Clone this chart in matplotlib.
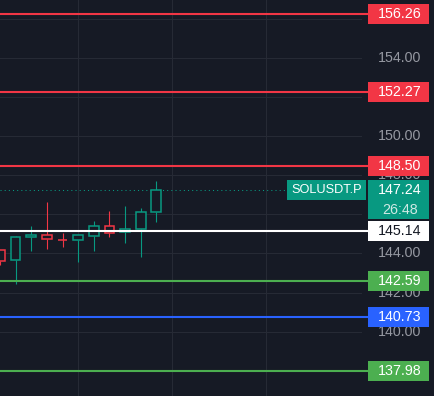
import matplotlib.pyplot as plt
from matplotlib.patches import Rectangle

# candles, oldest first (SOLUSDT.P)
opens = [144.18, 143.66, 144.83, 144.93, 144.71, 144.67, 144.88, 145.39, 145.08, 145.24, 146.11]
closes = [143.61, 144.84, 144.93, 144.72, 144.69, 144.93, 145.39, 145.03, 145.24, 146.11, 147.24]
highs = [144.20, 144.89, 145.40, 146.63, 145.05, 144.93, 145.66, 146.17, 146.43, 146.33, 147.71]
lows = [143.41, 142.45, 144.14, 144.24, 144.31, 143.58, 144.14, 144.86, 144.55, 143.83, 145.63]

# horizontal levels drawn on the chart
levels = [156.26, 152.27, 148.50, 145.14, 142.59, 140.73, 137.98]
level_colors = ['#f23645', '#f23645', '#f23645', '#ffffff', '#4caf50', '#2962ff', '#4caf50']
level_text_colors = ['#ffffff', '#ffffff', '#ffffff', '#131722', '#ffffff', '#ffffff', '#ffffff']

price_ticks = [138, 140, 142, 144, 146, 148, 150, 152, 154, 156]
symbol = 'SOLUSDT.P'
last_price = 147.24
countdown = '26:48'

BG = '#161a25'
GRID = '#262a35'
UP = '#089981'
DOWN = '#f23645'

W, H = 435, 396
PLOT_W = 362
fig = plt.figure(figsize=(W / 100, H / 100), dpi=100, facecolor=BG)
ax = fig.add_axes([0, 0, PLOT_W / W, 1])
ax.set_facecolor(BG)
ylim = (136.70, 156.98)
px = (ylim[1] - ylim[0]) / H  # price per pixel
ax.set_ylim(*ylim)
ax.set_xlim(0, PLOT_W / 15.63)

# grid
for t in price_ticks:
    ax.axhline(t, color=GRID, lw=0.8, zorder=0)
for xg in [5, 11, 17]:
    ax.axvline(xg, color=GRID, lw=0.8, zorder=0)
for s in ax.spines.values():
    s.set_visible(False)
ax.set_xticks([])
ax.set_yticks([])
ax.axvline(PLOT_W / 15.63 - 0.02, color=GRID, lw=0.8, zorder=0)

# candles (hollow)
bw = 0.62
for i, (o, c, h, l) in enumerate(zip(opens, closes, highs, lows)):
    col = UP if c >= o else DOWN
    top, bot = max(o, c), min(o, c)
    if h > top:
        ax.plot([i, i], [top, h], color=col, lw=0.8, zorder=2, solid_capstyle='butt')
    if l < bot:
        ax.plot([i, i], [l, bot], color=col, lw=0.8, zorder=2, solid_capstyle='butt')
    ax.add_patch(Rectangle((i - bw / 2, bot), bw, max(top - bot, 0.02),
                           facecolor=BG, edgecolor=col, lw=1.1, zorder=2))

# level lines
for v, c in zip(levels, level_colors):
    ax.axhline(v, color=c, lw=1.5, zorder=3)

# last price dotted line + symbol tag
ax.axhline(last_price, color=UP, lw=0.75, ls=(0, (1, 3)), zorder=1)
ax.text(PLOT_W / 15.63 - 0.2 / 15.63 * 15.63 * 0, last_price, symbol, ha='right', va='center',
        color='white', fontsize=9.2, family='Liberation Sans', zorder=6,
        bbox=dict(boxstyle='square,pad=0.32', facecolor=UP, edgecolor='none'))

# price scale
ax2 = fig.add_axes([PLOT_W / W, 0, (W - PLOT_W) / W, 1])
ax2.set_facecolor(BG)
ax2.set_xlim(0, W - PLOT_W)
ax2.set_ylim(*ylim)
ax2.axis('off')
box_x0, box_x1, text_x = 6, 67, 38
for t in price_ticks:
    ax2.text(text_x, t, f'{t:.2f}', ha='center', va='center', color='#9598a1',
             fontsize=10.3, family='Liberation Sans', zorder=2)

# last price box with countdown
lp_top = last_price + 10 * px
lp_bot = last_price - 29 * px
ax2.add_patch(Rectangle((box_x0, lp_bot), box_x1 - box_x0, lp_top - lp_bot,
                        facecolor=UP, edgecolor='none', zorder=5))
ax2.text(text_x, last_price, f'{last_price:.2f}', ha='center', va='center',
         color='white', fontsize=10.3, family='Liberation Sans', zorder=6)
ax2.text(text_x, last_price - 19.5 * px, countdown, ha='center', va='center',
         color='#cfe9e4', fontsize=10.3, family='Liberation Sans', zorder=6)

for v, c, tc in zip(levels, level_colors, level_text_colors):
    top, bot = v + 10 * px, v - 10 * px
    if bot < lp_top and top > lp_bot:
        top = lp_bot - 2 * px
    ax2.plot([0, box_x0], [v, v], color=c, lw=1.5, zorder=4)
    ax2.add_patch(Rectangle((box_x0, bot), box_x1 - box_x0, top - bot,
                            facecolor=c, edgecolor='none', zorder=5))
    ax2.text(text_x, (top + bot) / 2, f'{v:.2f}', ha='center', va='center',
             color=tc, fontsize=10.3, family='Liberation Sans', zorder=6)

fig.savefig('out.png', dpi=100, facecolor=BG)
